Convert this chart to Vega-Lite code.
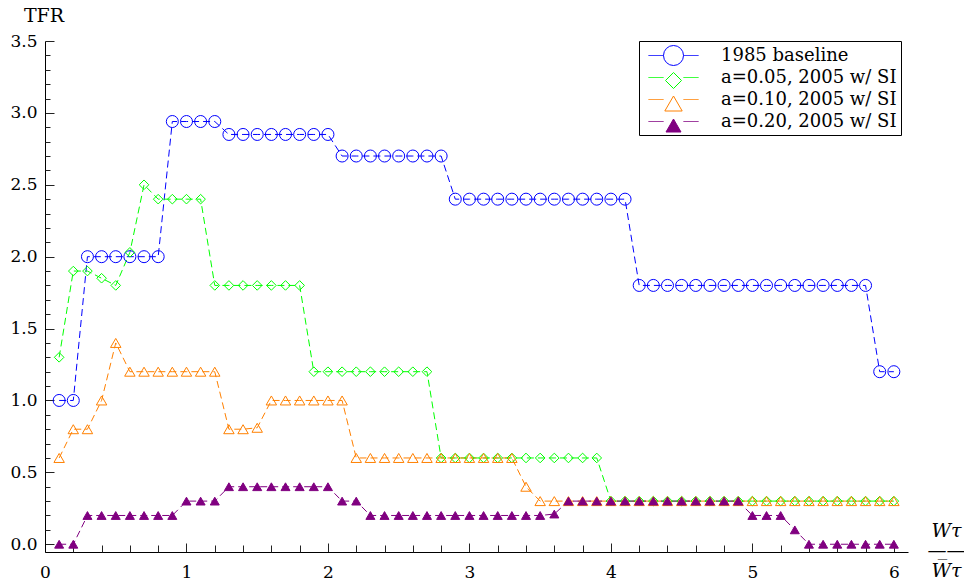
{
  "$schema": "https://vega.github.io/schema/vega-lite/v6.json",
  "width": 863,
  "height": 511,
  "autosize": {"type": "none"},
  "padding": {"left": 45, "top": 41, "right": 56, "bottom": 36},
  "config": {
    "view": {"stroke": null},
    "font": "DejaVu Serif",
    "legend": {
      "symbolSize": 400,
      "symbolStrokeWidth": 1,
      "labelFont": "DejaVu Serif",
      "labelFontSize": 18,
      "labelColor": "black",
      "labelLimit": 400
    }
  },
  "data": {
    "values": [
      {"series": "1985 baseline", "w": 0.1, "tfr": 1},
      {"series": "1985 baseline", "w": 0.2, "tfr": 1},
      {"series": "1985 baseline", "w": 0.3, "tfr": 2},
      {"series": "1985 baseline", "w": 0.4, "tfr": 2},
      {"series": "1985 baseline", "w": 0.5, "tfr": 2},
      {"series": "1985 baseline", "w": 0.6, "tfr": 2},
      {"series": "1985 baseline", "w": 0.7, "tfr": 2},
      {"series": "1985 baseline", "w": 0.8, "tfr": 2},
      {"series": "1985 baseline", "w": 0.9, "tfr": 2.94},
      {"series": "1985 baseline", "w": 1.0, "tfr": 2.94},
      {"series": "1985 baseline", "w": 1.1, "tfr": 2.94},
      {"series": "1985 baseline", "w": 1.2, "tfr": 2.94},
      {"series": "1985 baseline", "w": 1.3, "tfr": 2.85},
      {"series": "1985 baseline", "w": 1.4, "tfr": 2.85},
      {"series": "1985 baseline", "w": 1.5, "tfr": 2.85},
      {"series": "1985 baseline", "w": 1.6, "tfr": 2.85},
      {"series": "1985 baseline", "w": 1.7, "tfr": 2.85},
      {"series": "1985 baseline", "w": 1.8, "tfr": 2.85},
      {"series": "1985 baseline", "w": 1.9, "tfr": 2.85},
      {"series": "1985 baseline", "w": 2.0, "tfr": 2.85},
      {"series": "1985 baseline", "w": 2.1, "tfr": 2.7},
      {"series": "1985 baseline", "w": 2.2, "tfr": 2.7},
      {"series": "1985 baseline", "w": 2.3, "tfr": 2.7},
      {"series": "1985 baseline", "w": 2.4, "tfr": 2.7},
      {"series": "1985 baseline", "w": 2.5, "tfr": 2.7},
      {"series": "1985 baseline", "w": 2.6, "tfr": 2.7},
      {"series": "1985 baseline", "w": 2.7, "tfr": 2.7},
      {"series": "1985 baseline", "w": 2.8, "tfr": 2.7},
      {"series": "1985 baseline", "w": 2.9, "tfr": 2.4},
      {"series": "1985 baseline", "w": 3.0, "tfr": 2.4},
      {"series": "1985 baseline", "w": 3.1, "tfr": 2.4},
      {"series": "1985 baseline", "w": 3.2, "tfr": 2.4},
      {"series": "1985 baseline", "w": 3.3, "tfr": 2.4},
      {"series": "1985 baseline", "w": 3.4, "tfr": 2.4},
      {"series": "1985 baseline", "w": 3.5, "tfr": 2.4},
      {"series": "1985 baseline", "w": 3.6, "tfr": 2.4},
      {"series": "1985 baseline", "w": 3.7, "tfr": 2.4},
      {"series": "1985 baseline", "w": 3.8, "tfr": 2.4},
      {"series": "1985 baseline", "w": 3.9, "tfr": 2.4},
      {"series": "1985 baseline", "w": 4.0, "tfr": 2.4},
      {"series": "1985 baseline", "w": 4.1, "tfr": 2.4},
      {"series": "1985 baseline", "w": 4.2, "tfr": 1.8},
      {"series": "1985 baseline", "w": 4.3, "tfr": 1.8},
      {"series": "1985 baseline", "w": 4.4, "tfr": 1.8},
      {"series": "1985 baseline", "w": 4.5, "tfr": 1.8},
      {"series": "1985 baseline", "w": 4.6, "tfr": 1.8},
      {"series": "1985 baseline", "w": 4.7, "tfr": 1.8},
      {"series": "1985 baseline", "w": 4.8, "tfr": 1.8},
      {"series": "1985 baseline", "w": 4.9, "tfr": 1.8},
      {"series": "1985 baseline", "w": 5.0, "tfr": 1.8},
      {"series": "1985 baseline", "w": 5.1, "tfr": 1.8},
      {"series": "1985 baseline", "w": 5.2, "tfr": 1.8},
      {"series": "1985 baseline", "w": 5.3, "tfr": 1.8},
      {"series": "1985 baseline", "w": 5.4, "tfr": 1.8},
      {"series": "1985 baseline", "w": 5.5, "tfr": 1.8},
      {"series": "1985 baseline", "w": 5.6, "tfr": 1.8},
      {"series": "1985 baseline", "w": 5.7, "tfr": 1.8},
      {"series": "1985 baseline", "w": 5.8, "tfr": 1.8},
      {"series": "1985 baseline", "w": 5.9, "tfr": 1.2},
      {"series": "1985 baseline", "w": 6.0, "tfr": 1.2},

      {"series": "a=0.05, 2005 w/ SI", "w": 0.1, "tfr": 1.3},
      {"series": "a=0.05, 2005 w/ SI", "w": 0.2, "tfr": 1.9},
      {"series": "a=0.05, 2005 w/ SI", "w": 0.3, "tfr": 1.9},
      {"series": "a=0.05, 2005 w/ SI", "w": 0.4, "tfr": 1.85},
      {"series": "a=0.05, 2005 w/ SI", "w": 0.5, "tfr": 1.8},
      {"series": "a=0.05, 2005 w/ SI", "w": 0.6, "tfr": 2.03},
      {"series": "a=0.05, 2005 w/ SI", "w": 0.7, "tfr": 2.5},
      {"series": "a=0.05, 2005 w/ SI", "w": 0.8, "tfr": 2.4},
      {"series": "a=0.05, 2005 w/ SI", "w": 0.9, "tfr": 2.4},
      {"series": "a=0.05, 2005 w/ SI", "w": 1.0, "tfr": 2.4},
      {"series": "a=0.05, 2005 w/ SI", "w": 1.1, "tfr": 2.4},
      {"series": "a=0.05, 2005 w/ SI", "w": 1.2, "tfr": 1.8},
      {"series": "a=0.05, 2005 w/ SI", "w": 1.3, "tfr": 1.8},
      {"series": "a=0.05, 2005 w/ SI", "w": 1.4, "tfr": 1.8},
      {"series": "a=0.05, 2005 w/ SI", "w": 1.5, "tfr": 1.8},
      {"series": "a=0.05, 2005 w/ SI", "w": 1.6, "tfr": 1.8},
      {"series": "a=0.05, 2005 w/ SI", "w": 1.7, "tfr": 1.8},
      {"series": "a=0.05, 2005 w/ SI", "w": 1.8, "tfr": 1.8},
      {"series": "a=0.05, 2005 w/ SI", "w": 1.9, "tfr": 1.2},
      {"series": "a=0.05, 2005 w/ SI", "w": 2.0, "tfr": 1.2},
      {"series": "a=0.05, 2005 w/ SI", "w": 2.1, "tfr": 1.2},
      {"series": "a=0.05, 2005 w/ SI", "w": 2.2, "tfr": 1.2},
      {"series": "a=0.05, 2005 w/ SI", "w": 2.3, "tfr": 1.2},
      {"series": "a=0.05, 2005 w/ SI", "w": 2.4, "tfr": 1.2},
      {"series": "a=0.05, 2005 w/ SI", "w": 2.5, "tfr": 1.2},
      {"series": "a=0.05, 2005 w/ SI", "w": 2.6, "tfr": 1.2},
      {"series": "a=0.05, 2005 w/ SI", "w": 2.7, "tfr": 1.2},
      {"series": "a=0.05, 2005 w/ SI", "w": 2.8, "tfr": 0.6},
      {"series": "a=0.05, 2005 w/ SI", "w": 2.9, "tfr": 0.6},
      {"series": "a=0.05, 2005 w/ SI", "w": 3.0, "tfr": 0.6},
      {"series": "a=0.05, 2005 w/ SI", "w": 3.1, "tfr": 0.6},
      {"series": "a=0.05, 2005 w/ SI", "w": 3.2, "tfr": 0.6},
      {"series": "a=0.05, 2005 w/ SI", "w": 3.3, "tfr": 0.6},
      {"series": "a=0.05, 2005 w/ SI", "w": 3.4, "tfr": 0.6},
      {"series": "a=0.05, 2005 w/ SI", "w": 3.5, "tfr": 0.6},
      {"series": "a=0.05, 2005 w/ SI", "w": 3.6, "tfr": 0.6},
      {"series": "a=0.05, 2005 w/ SI", "w": 3.7, "tfr": 0.6},
      {"series": "a=0.05, 2005 w/ SI", "w": 3.8, "tfr": 0.6},
      {"series": "a=0.05, 2005 w/ SI", "w": 3.9, "tfr": 0.6},
      {"series": "a=0.05, 2005 w/ SI", "w": 4.0, "tfr": 0.3},
      {"series": "a=0.05, 2005 w/ SI", "w": 4.1, "tfr": 0.3},
      {"series": "a=0.05, 2005 w/ SI", "w": 4.2, "tfr": 0.3},
      {"series": "a=0.05, 2005 w/ SI", "w": 4.3, "tfr": 0.3},
      {"series": "a=0.05, 2005 w/ SI", "w": 4.4, "tfr": 0.3},
      {"series": "a=0.05, 2005 w/ SI", "w": 4.5, "tfr": 0.3},
      {"series": "a=0.05, 2005 w/ SI", "w": 4.6, "tfr": 0.3},
      {"series": "a=0.05, 2005 w/ SI", "w": 4.7, "tfr": 0.3},
      {"series": "a=0.05, 2005 w/ SI", "w": 4.8, "tfr": 0.3},
      {"series": "a=0.05, 2005 w/ SI", "w": 4.9, "tfr": 0.3},
      {"series": "a=0.05, 2005 w/ SI", "w": 5.0, "tfr": 0.3},
      {"series": "a=0.05, 2005 w/ SI", "w": 5.1, "tfr": 0.3},
      {"series": "a=0.05, 2005 w/ SI", "w": 5.2, "tfr": 0.3},
      {"series": "a=0.05, 2005 w/ SI", "w": 5.3, "tfr": 0.3},
      {"series": "a=0.05, 2005 w/ SI", "w": 5.4, "tfr": 0.3},
      {"series": "a=0.05, 2005 w/ SI", "w": 5.5, "tfr": 0.3},
      {"series": "a=0.05, 2005 w/ SI", "w": 5.6, "tfr": 0.3},
      {"series": "a=0.05, 2005 w/ SI", "w": 5.7, "tfr": 0.3},
      {"series": "a=0.05, 2005 w/ SI", "w": 5.8, "tfr": 0.3},
      {"series": "a=0.05, 2005 w/ SI", "w": 5.9, "tfr": 0.3},
      {"series": "a=0.05, 2005 w/ SI", "w": 6.0, "tfr": 0.3},

      {"series": "a=0.10, 2005 w/ SI", "w": 0.1, "tfr": 0.6},
      {"series": "a=0.10, 2005 w/ SI", "w": 0.2, "tfr": 0.8},
      {"series": "a=0.10, 2005 w/ SI", "w": 0.3, "tfr": 0.8},
      {"series": "a=0.10, 2005 w/ SI", "w": 0.4, "tfr": 1.0},
      {"series": "a=0.10, 2005 w/ SI", "w": 0.5, "tfr": 1.4},
      {"series": "a=0.10, 2005 w/ SI", "w": 0.6, "tfr": 1.2},
      {"series": "a=0.10, 2005 w/ SI", "w": 0.7, "tfr": 1.2},
      {"series": "a=0.10, 2005 w/ SI", "w": 0.8, "tfr": 1.2},
      {"series": "a=0.10, 2005 w/ SI", "w": 0.9, "tfr": 1.2},
      {"series": "a=0.10, 2005 w/ SI", "w": 1.0, "tfr": 1.2},
      {"series": "a=0.10, 2005 w/ SI", "w": 1.1, "tfr": 1.2},
      {"series": "a=0.10, 2005 w/ SI", "w": 1.2, "tfr": 1.2},
      {"series": "a=0.10, 2005 w/ SI", "w": 1.3, "tfr": 0.8},
      {"series": "a=0.10, 2005 w/ SI", "w": 1.4, "tfr": 0.8},
      {"series": "a=0.10, 2005 w/ SI", "w": 1.5, "tfr": 0.81},
      {"series": "a=0.10, 2005 w/ SI", "w": 1.6, "tfr": 1.0},
      {"series": "a=0.10, 2005 w/ SI", "w": 1.7, "tfr": 1.0},
      {"series": "a=0.10, 2005 w/ SI", "w": 1.8, "tfr": 1.0},
      {"series": "a=0.10, 2005 w/ SI", "w": 1.9, "tfr": 1.0},
      {"series": "a=0.10, 2005 w/ SI", "w": 2.0, "tfr": 1.0},
      {"series": "a=0.10, 2005 w/ SI", "w": 2.1, "tfr": 1.0},
      {"series": "a=0.10, 2005 w/ SI", "w": 2.2, "tfr": 0.6},
      {"series": "a=0.10, 2005 w/ SI", "w": 2.3, "tfr": 0.6},
      {"series": "a=0.10, 2005 w/ SI", "w": 2.4, "tfr": 0.6},
      {"series": "a=0.10, 2005 w/ SI", "w": 2.5, "tfr": 0.6},
      {"series": "a=0.10, 2005 w/ SI", "w": 2.6, "tfr": 0.6},
      {"series": "a=0.10, 2005 w/ SI", "w": 2.7, "tfr": 0.6},
      {"series": "a=0.10, 2005 w/ SI", "w": 2.8, "tfr": 0.6},
      {"series": "a=0.10, 2005 w/ SI", "w": 2.9, "tfr": 0.6},
      {"series": "a=0.10, 2005 w/ SI", "w": 3.0, "tfr": 0.6},
      {"series": "a=0.10, 2005 w/ SI", "w": 3.1, "tfr": 0.6},
      {"series": "a=0.10, 2005 w/ SI", "w": 3.2, "tfr": 0.6},
      {"series": "a=0.10, 2005 w/ SI", "w": 3.3, "tfr": 0.6},
      {"series": "a=0.10, 2005 w/ SI", "w": 3.4, "tfr": 0.4},
      {"series": "a=0.10, 2005 w/ SI", "w": 3.5, "tfr": 0.3},
      {"series": "a=0.10, 2005 w/ SI", "w": 3.6, "tfr": 0.3},
      {"series": "a=0.10, 2005 w/ SI", "w": 3.7, "tfr": 0.3},
      {"series": "a=0.10, 2005 w/ SI", "w": 3.8, "tfr": 0.3},
      {"series": "a=0.10, 2005 w/ SI", "w": 3.9, "tfr": 0.3},
      {"series": "a=0.10, 2005 w/ SI", "w": 4.0, "tfr": 0.3},
      {"series": "a=0.10, 2005 w/ SI", "w": 4.1, "tfr": 0.3},
      {"series": "a=0.10, 2005 w/ SI", "w": 4.2, "tfr": 0.3},
      {"series": "a=0.10, 2005 w/ SI", "w": 4.3, "tfr": 0.3},
      {"series": "a=0.10, 2005 w/ SI", "w": 4.4, "tfr": 0.3},
      {"series": "a=0.10, 2005 w/ SI", "w": 4.5, "tfr": 0.3},
      {"series": "a=0.10, 2005 w/ SI", "w": 4.6, "tfr": 0.3},
      {"series": "a=0.10, 2005 w/ SI", "w": 4.7, "tfr": 0.3},
      {"series": "a=0.10, 2005 w/ SI", "w": 4.8, "tfr": 0.3},
      {"series": "a=0.10, 2005 w/ SI", "w": 4.9, "tfr": 0.3},
      {"series": "a=0.10, 2005 w/ SI", "w": 5.0, "tfr": 0.3},
      {"series": "a=0.10, 2005 w/ SI", "w": 5.1, "tfr": 0.3},
      {"series": "a=0.10, 2005 w/ SI", "w": 5.2, "tfr": 0.3},
      {"series": "a=0.10, 2005 w/ SI", "w": 5.3, "tfr": 0.3},
      {"series": "a=0.10, 2005 w/ SI", "w": 5.4, "tfr": 0.3},
      {"series": "a=0.10, 2005 w/ SI", "w": 5.5, "tfr": 0.3},
      {"series": "a=0.10, 2005 w/ SI", "w": 5.6, "tfr": 0.3},
      {"series": "a=0.10, 2005 w/ SI", "w": 5.7, "tfr": 0.3},
      {"series": "a=0.10, 2005 w/ SI", "w": 5.8, "tfr": 0.3},
      {"series": "a=0.10, 2005 w/ SI", "w": 5.9, "tfr": 0.3},
      {"series": "a=0.10, 2005 w/ SI", "w": 6.0, "tfr": 0.3},

      {"series": "a=0.20, 2005 w/ SI", "w": 0.1, "tfr": 0},
      {"series": "a=0.20, 2005 w/ SI", "w": 0.2, "tfr": 0},
      {"series": "a=0.20, 2005 w/ SI", "w": 0.3, "tfr": 0.2},
      {"series": "a=0.20, 2005 w/ SI", "w": 0.4, "tfr": 0.2},
      {"series": "a=0.20, 2005 w/ SI", "w": 0.5, "tfr": 0.2},
      {"series": "a=0.20, 2005 w/ SI", "w": 0.6, "tfr": 0.2},
      {"series": "a=0.20, 2005 w/ SI", "w": 0.7, "tfr": 0.2},
      {"series": "a=0.20, 2005 w/ SI", "w": 0.8, "tfr": 0.2},
      {"series": "a=0.20, 2005 w/ SI", "w": 0.9, "tfr": 0.2},
      {"series": "a=0.20, 2005 w/ SI", "w": 1.0, "tfr": 0.3},
      {"series": "a=0.20, 2005 w/ SI", "w": 1.1, "tfr": 0.3},
      {"series": "a=0.20, 2005 w/ SI", "w": 1.2, "tfr": 0.3},
      {"series": "a=0.20, 2005 w/ SI", "w": 1.3, "tfr": 0.4},
      {"series": "a=0.20, 2005 w/ SI", "w": 1.4, "tfr": 0.4},
      {"series": "a=0.20, 2005 w/ SI", "w": 1.5, "tfr": 0.4},
      {"series": "a=0.20, 2005 w/ SI", "w": 1.6, "tfr": 0.4},
      {"series": "a=0.20, 2005 w/ SI", "w": 1.7, "tfr": 0.4},
      {"series": "a=0.20, 2005 w/ SI", "w": 1.8, "tfr": 0.4},
      {"series": "a=0.20, 2005 w/ SI", "w": 1.9, "tfr": 0.4},
      {"series": "a=0.20, 2005 w/ SI", "w": 2.0, "tfr": 0.4},
      {"series": "a=0.20, 2005 w/ SI", "w": 2.1, "tfr": 0.3},
      {"series": "a=0.20, 2005 w/ SI", "w": 2.2, "tfr": 0.3},
      {"series": "a=0.20, 2005 w/ SI", "w": 2.3, "tfr": 0.2},
      {"series": "a=0.20, 2005 w/ SI", "w": 2.4, "tfr": 0.2},
      {"series": "a=0.20, 2005 w/ SI", "w": 2.5, "tfr": 0.2},
      {"series": "a=0.20, 2005 w/ SI", "w": 2.6, "tfr": 0.2},
      {"series": "a=0.20, 2005 w/ SI", "w": 2.7, "tfr": 0.2},
      {"series": "a=0.20, 2005 w/ SI", "w": 2.8, "tfr": 0.2},
      {"series": "a=0.20, 2005 w/ SI", "w": 2.9, "tfr": 0.2},
      {"series": "a=0.20, 2005 w/ SI", "w": 3.0, "tfr": 0.2},
      {"series": "a=0.20, 2005 w/ SI", "w": 3.1, "tfr": 0.2},
      {"series": "a=0.20, 2005 w/ SI", "w": 3.2, "tfr": 0.2},
      {"series": "a=0.20, 2005 w/ SI", "w": 3.3, "tfr": 0.2},
      {"series": "a=0.20, 2005 w/ SI", "w": 3.4, "tfr": 0.2},
      {"series": "a=0.20, 2005 w/ SI", "w": 3.5, "tfr": 0.2},
      {"series": "a=0.20, 2005 w/ SI", "w": 3.6, "tfr": 0.21},
      {"series": "a=0.20, 2005 w/ SI", "w": 3.7, "tfr": 0.3},
      {"series": "a=0.20, 2005 w/ SI", "w": 3.8, "tfr": 0.3},
      {"series": "a=0.20, 2005 w/ SI", "w": 3.9, "tfr": 0.3},
      {"series": "a=0.20, 2005 w/ SI", "w": 4.0, "tfr": 0.3},
      {"series": "a=0.20, 2005 w/ SI", "w": 4.1, "tfr": 0.3},
      {"series": "a=0.20, 2005 w/ SI", "w": 4.2, "tfr": 0.3},
      {"series": "a=0.20, 2005 w/ SI", "w": 4.3, "tfr": 0.3},
      {"series": "a=0.20, 2005 w/ SI", "w": 4.4, "tfr": 0.3},
      {"series": "a=0.20, 2005 w/ SI", "w": 4.5, "tfr": 0.3},
      {"series": "a=0.20, 2005 w/ SI", "w": 4.6, "tfr": 0.3},
      {"series": "a=0.20, 2005 w/ SI", "w": 4.7, "tfr": 0.3},
      {"series": "a=0.20, 2005 w/ SI", "w": 4.8, "tfr": 0.3},
      {"series": "a=0.20, 2005 w/ SI", "w": 4.9, "tfr": 0.3},
      {"series": "a=0.20, 2005 w/ SI", "w": 5.0, "tfr": 0.2},
      {"series": "a=0.20, 2005 w/ SI", "w": 5.1, "tfr": 0.2},
      {"series": "a=0.20, 2005 w/ SI", "w": 5.2, "tfr": 0.2},
      {"series": "a=0.20, 2005 w/ SI", "w": 5.3, "tfr": 0.1},
      {"series": "a=0.20, 2005 w/ SI", "w": 5.4, "tfr": 0},
      {"series": "a=0.20, 2005 w/ SI", "w": 5.5, "tfr": 0},
      {"series": "a=0.20, 2005 w/ SI", "w": 5.6, "tfr": 0},
      {"series": "a=0.20, 2005 w/ SI", "w": 5.7, "tfr": 0},
      {"series": "a=0.20, 2005 w/ SI", "w": 5.8, "tfr": 0},
      {"series": "a=0.20, 2005 w/ SI", "w": 5.9, "tfr": 0},
      {"series": "a=0.20, 2005 w/ SI", "w": 6.0, "tfr": 0}
    ]
  },
  "layer": [
    {
      "mark": {"type": "line", "strokeDash": [7, 4], "strokeWidth": 1},
      "encoding": {
        "x": {
          "field": "w", "type": "quantitative",
          "scale": {"domain": [0, 6.1], "nice": false, "zero": false},
          "axis": {
            "orient": "bottom", "values": [0, 1, 2, 3, 4, 5, 6], "format": "d",
            "grid": false, "tickSize": -9, "tickColor": "#222", "tickWidth": 1,
            "domainColor": "black", "domainWidth": 1,
            "labelPadding": 21, "labelFlush": false, "labelOverlap": false,
            "labelFont": "DejaVu Serif", "labelFontSize": 17, "labelColor": "black",
            "title": ["Wτ", "——", "W̅τ"],
            "titleX": 901, "titleY": -22, "titleAlign": "center", "titleBaseline": "middle",
            "titleAngle": 0, "titleFont": "DejaVu Serif", "titleFontStyle": "italic",
            "titleFontWeight": "normal", "titleFontSize": 19, "titleLineHeight": 20,
            "titleColor": "black"
          }
        },
        "y": {
          "field": "tfr", "type": "quantitative",
          "scale": {"domain": [-0.054, 3.5], "nice": false, "zero": false},
          "axis": {
            "orient": "left", "values": [0, 0.5, 1, 1.5, 2, 2.5, 3, 3.5], "format": ".1f",
            "grid": false, "tickSize": -9, "tickColor": "#222", "tickWidth": 1,
            "domainColor": "black", "domainWidth": 1,
            "labelPadding": 17, "labelFlush": false, "labelOverlap": false,
            "labelFont": "DejaVu Serif", "labelFontSize": 17, "labelColor": "black",
            "title": "TFR", "titleAngle": 0, "titleX": -1.5, "titleY": -25.5,
            "titleAlign": "center", "titleBaseline": "middle",
            "titleFont": "DejaVu Serif", "titleFontWeight": "normal", "titleFontSize": 19,
            "titleColor": "black"
          }
        },
        "color": {
          "field": "series", "type": "nominal",
          "scale": {
            "domain": ["1985 baseline", "a=0.05, 2005 w/ SI", "a=0.10, 2005 w/ SI", "a=0.20, 2005 w/ SI"],
            "range": ["#0000ff", "#00ff00", "#ff8000", "#800080"]
          },
          "legend": {
            "title": null, "orient": "none", "legendX": 594, "legendY": 0,
            "padding": 4, "rowPadding": 2, "symbolOffset": 20, "labelOffset": 37, "labelLimit": 400,
            "strokeColor": "black", "fillColor": "white", "cornerRadius": 0,
            "symbolType": "M-2.5,0H-1M1,0H2.5", "symbolDash": [1, 0], "symbolStrokeWidth": 1,
            "labelExpr": "datum.label + '\u2003'"
          }
        }
      }
    },
    {
      "mark": {"type": "point", "filled": false, "size": 144, "strokeWidth": 1, "opacity": 1},
      "encoding": {
        "x": {
          "field": "w", "type": "quantitative",
          "scale": {"domain": [0, 6.1], "nice": false, "zero": false},
          "axis": {
            "orient": "bottom", "labels": false, "domain": false, "grid": false, "title": null,
            "values": [0.2, 0.4, 0.6, 0.8, 1.2, 1.4, 1.6, 1.8, 2.2, 2.4, 2.6, 2.8, 3.2, 3.4, 3.6, 3.8, 4.2, 4.4, 4.6, 4.8, 5.2, 5.4, 5.6, 5.8],
            "tickSize": -7, "tickColor": "#222", "tickWidth": 1
          }
        },
        "y": {
          "field": "tfr", "type": "quantitative",
          "scale": {"domain": [-0.054, 3.5], "nice": false, "zero": false},
          "axis": {
            "orient": "left", "labels": false, "domain": false, "grid": false, "title": null,
            "values": [0.1, 0.2, 0.3, 0.4, 0.6, 0.7, 0.8, 0.9, 1.1, 1.2, 1.3, 1.4, 1.6, 1.7, 1.8, 1.9, 2.1, 2.2, 2.3, 2.4, 2.6, 2.7, 2.8, 2.9, 3.1, 3.2, 3.3, 3.4],
            "tickSize": -5, "tickColor": "#222", "tickWidth": 1
          }
        },
        "color": {
          "field": "series", "type": "nominal",
          "scale": {
            "domain": ["1985 baseline", "a=0.05, 2005 w/ SI", "a=0.10, 2005 w/ SI", "a=0.20, 2005 w/ SI"],
            "range": ["#0000ff", "#00ff00", "#ff8000", "#800080"]
          },
          "legend": {
            "title": null, "orient": "none", "legendX": 594, "legendY": 0,
            "padding": 4, "rowPadding": 2, "symbolOffset": 20, "labelOffset": 37, "labelLimit": 400,
            "labelOpacity": 0, "symbolStrokeWidth": 1,
            "labelExpr": "''"
          }
        },
        "shape": {
          "field": "series", "type": "nominal",
          "scale": {
            "domain": ["1985 baseline", "a=0.05, 2005 w/ SI", "a=0.10, 2005 w/ SI", "a=0.20, 2005 w/ SI"],
            "range": ["circle", "M-0.8,0L0,-0.8L0.8,0L0,0.8Z", "M0,-0.75L0.87,0.75L-0.87,0.75Z", "M0,-0.65L0.75,0.65L-0.75,0.65Z"]
          },
          "legend": {
            "title": null, "orient": "none", "legendX": 594, "legendY": 0,
            "padding": 4, "rowPadding": 2, "symbolOffset": 20, "labelOffset": 37, "labelLimit": 400,
            "labelOpacity": 0, "symbolStrokeWidth": 1,
            "labelExpr": "''"
          }
        },
        "fill": {
          "field": "series", "type": "nominal",
          "scale": {
            "domain": ["1985 baseline", "a=0.05, 2005 w/ SI", "a=0.10, 2005 w/ SI", "a=0.20, 2005 w/ SI"],
            "range": ["transparent", "transparent", "transparent", "#800080"]
          },
          "legend": {
            "title": null, "orient": "none", "legendX": 594, "legendY": 0,
            "padding": 4, "rowPadding": 2, "symbolOffset": 20, "labelOffset": 37, "labelLimit": 400,
            "labelOpacity": 0, "symbolStrokeWidth": 1,
            "labelExpr": "''"
          }
        }
      }
    }
  ],
  "resolve": {
    "axis": {"x": "independent", "y": "independent"},
    "legend": {"color": "independent", "shape": "independent", "fill": "independent"}
  }
}
